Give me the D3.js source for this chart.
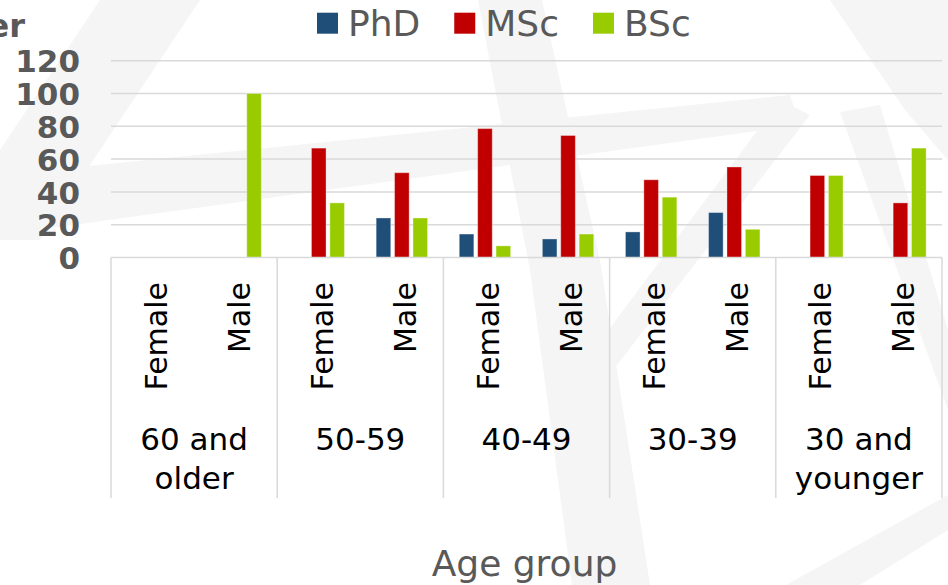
<!DOCTYPE html>
<html>
<head>
<meta charset="utf-8">
<script src="https://cdn.jsdelivr.net/npm/d3@7"></script>
<style>
  html, body { margin: 0; padding: 0; background: #ffffff; }
  svg { display: block; font-family: "DejaVu Sans", Verdana, sans-serif; }
</style>
</head>
<body>
<svg id="chart" width="948" height="585"></svg>
<script>
// ---- data ----
const groupLabels = [["60 and", "older"], ["50-59"], ["40-49"], ["30-39"], ["30 and", "younger"]];
const genders = ["Female", "Male"];
const seriesNames = ["PhD", "MSc", "BSc"];
const seriesColors = ["#1f4e79", "#c00000", "#99cc00"];
// values per category, in order: group x gender (Female, Male)
const phdValues = [0, 0, 0, 24.1, 14.3, 11.3, 15.6, 27.4, 0, 0];
const mscValues = [0, 0, 66.7, 51.7, 78.6, 74.4, 47.4, 55.2, 50, 33.3];
const bscValues = [0, 100, 33.3, 24.1, 7.1, 14.3, 36.8, 17.2, 50, 66.7];
const yTicks = [0, 20, 40, 60, 80, 100, 120];
const yTitle = "Number";
const xTitle = "Age group";

// ---- layout ----
const svg = d3.select("#chart");
const plotLeft = 111, plotRight = 942, plotTop = 60.7, plotBottom = 257.5, sepBottom = 498;

// faint background watermark
const wm = svg.append("g").attr("fill", "#f5f5f5");
const wmShapes = [
  [[100,0],[200,0],[40,240],[0,240],[0,150]],
  [[0,175],[790,95],[800,125],[0,235]],
  [[478,0],[542,0],[600,260],[650,585],[572,585],[530,270]],
  [[830,0],[948,0],[948,160],[905,110]],
  [[840,112],[880,105],[948,330],[948,410]],
  [[780,100],[810,115],[590,400],[560,395]],
  [[786,585],[948,495],[948,530],[860,585]]
];
wmShapes.forEach(p => wm.append("path").attr("d", d3.line().curve(d3.curveLinearClosed)(p)));

const categories = [];
groupLabels.forEach((g, gi) => genders.forEach(s => categories.push(gi + "|" + s)));

const x0 = d3.scaleBand().domain(categories).range([plotLeft, plotRight]).paddingInner(0).paddingOuter(0);
const x1 = d3.scaleBand().domain(seriesNames).range([0, x0.bandwidth()]).paddingInner(0.207).paddingOuter(0.862);
const y = d3.scaleLinear().domain([0, 120]).range([plotBottom, plotTop]);

// gridlines
svg.append("g").selectAll("line").data(yTicks.filter(d => d > 0)).join("line")
  .attr("x1", plotLeft).attr("x2", plotRight)
  .attr("y1", d => y(d)).attr("y2", d => y(d))
  .attr("stroke", "#d9d9d9").attr("stroke-width", 1.5);

// y axis labels
const yAxis = svg.append("g").attr("transform", `translate(${plotLeft},0)`)
  .call(d3.axisLeft(y).tickValues(yTicks).tickSize(0).tickPadding(31));
yAxis.select(".domain").remove();
yAxis.selectAll("text")
  .attr("font-family", "DejaVu Sans, Verdana, sans-serif")
  .attr("font-size", 31).attr("font-weight", "bold").attr("fill", "#595959")
  .attr("dy", "0.36em");

// y title (cut off at left edge, as in the reference)
svg.append("text").attr("x", 25).attr("y", 37).attr("text-anchor", "end")
  .attr("font-size", 32).attr("font-weight", "bold").attr("fill", "#595959").text(yTitle);

// bars
const seriesValues = [phdValues, mscValues, bscValues];
const barsG = svg.append("g");
seriesNames.forEach((s, si) => {
  barsG.append("g").selectAll("rect")
    .data(categories.map((c, i) => ({c, v: seriesValues[si][i]})).filter(d => d.v > 0))
    .join("rect")
    .attr("x", d => x0(d.c) + x1(s))
    .attr("width", x1.bandwidth())
    .attr("y", d => y(d.v))
    .attr("height", d => y(0) - y(d.v))
    .attr("fill", seriesColors[si])
    .attr("stroke", "rgba(255,255,255,0.35)").attr("stroke-width", 1);
});

// category axis lines
const axisG = svg.append("g").attr("stroke", "#d9d9d9").attr("stroke-width", 1.5);
axisG.append("line").attr("x1", plotLeft).attr("x2", plotRight).attr("y1", plotBottom).attr("y2", plotBottom);
const groupEdges = [];
for (let gi = 0; gi <= groupLabels.length; gi++) {
  groupEdges.push(gi < groupLabels.length ? x0(categories[gi * 2]) : plotRight);
}
axisG.selectAll("line.sep").data(groupEdges).join("line").attr("class", "sep")
  .attr("x1", d => d).attr("x2", d => d).attr("y1", plotBottom).attr("y2", sepBottom);

// gender labels (rotated)
svg.append("g").selectAll("text").data(categories).join("text")
  .attr("transform", d => `translate(${x0(d) + x0.bandwidth() / 2 + 14},282) rotate(-90)`)
  .attr("text-anchor", "end").attr("font-size", 30).attr("fill", "#000")
  .text(d => d.split("|")[1]);

// group labels
const gl = svg.append("g");
groupLabels.forEach((lines, gi) => {
  const cx = (groupEdges[gi] + groupEdges[gi + 1]) / 2;
  const t = gl.append("text").attr("text-anchor", "middle").attr("font-size", 31).attr("fill", "#000");
  lines.forEach((ln, li) => t.append("tspan").attr("x", cx).attr("y", 450 + li * 39).text(ln));
});

// x title
svg.append("text").attr("x", (plotLeft + plotRight) / 2 - 2).attr("y", 576).attr("text-anchor", "middle")
  .attr("font-size", 36).attr("fill", "#595959").text(xTitle);

// legend
const lg = svg.append("g");
let lx = 317;
seriesNames.forEach((s, si) => {
  lg.append("rect").attr("x", lx).attr("y", 12.7).attr("width", 21).attr("height", 21).attr("fill", seriesColors[si]);
  const t = lg.append("text").attr("x", lx + 31).attr("y", 36).attr("font-size", 36).attr("fill", "#595959").text(s);
  lx += 31 + t.node().getComputedTextLength() + 34;
});
</script>
</body>
</html>
